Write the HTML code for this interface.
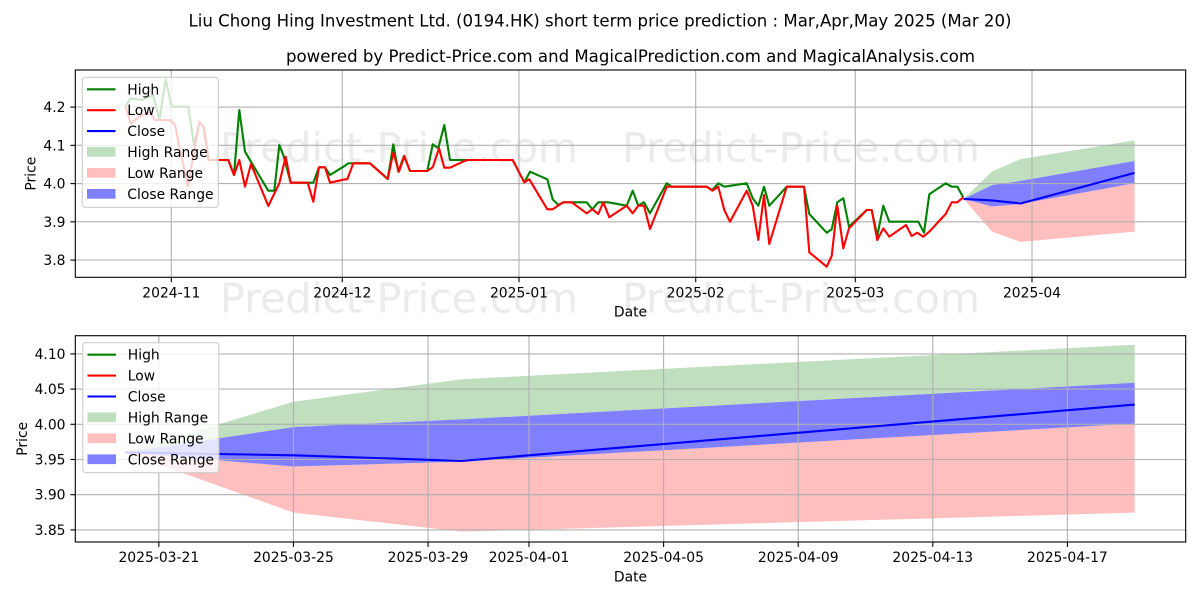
<!DOCTYPE html>
<html><head><meta charset="utf-8"><style>
html,body{margin:0;padding:0;background:#fff;}
svg{display:block;font-family:"DejaVu Sans","Liberation Sans",sans-serif;}
</style></head><body>
<svg width="1200" height="600" viewBox="0 0 1200 600" xmlns="http://www.w3.org/2000/svg">
<defs>
<clipPath id="c1"><rect x="75.3" y="70" width="1110.4" height="207.3"/></clipPath>
<clipPath id="c2"><rect x="75.3" y="335.7" width="1110.4" height="206.3"/></clipPath>
</defs>
<rect width="1200" height="600" fill="#fff"/>

<!-- titles -->
<text x="600" y="26.7" font-size="16.7" text-anchor="middle" textLength="823" lengthAdjust="spacingAndGlyphs">Liu Chong Hing Investment Ltd. (0194.HK) short term price prediction : Mar,Apr,May 2025 (Mar 20)</text>
<text x="630.5" y="62" font-size="16.7" text-anchor="middle" textLength="689" lengthAdjust="spacingAndGlyphs">powered by Predict-Price.com and MagicalPrediction.com and MagicalAnalysis.com</text>

<!-- watermarks -->
<g font-size="41" fill="#ebebeb">
<text x="220" y="162" textLength="358" lengthAdjust="spacingAndGlyphs">Predict-Price.com</text>
<text x="622" y="162" textLength="358" lengthAdjust="spacingAndGlyphs">Predict-Price.com</text>
<text x="220" y="312.7" textLength="358" lengthAdjust="spacingAndGlyphs">Predict-Price.com</text>
<text x="622" y="312.7" textLength="358" lengthAdjust="spacingAndGlyphs">Predict-Price.com</text>
<text x="222" y="461" textLength="358" lengthAdjust="spacingAndGlyphs">Predict-Price.com</text>
<text x="623" y="461" textLength="358" lengthAdjust="spacingAndGlyphs">Predict-Price.com</text>
</g>

<!-- ===== TOP CHART ===== -->
<g clip-path="url(#c1)">
<polygon fill="#bfdfbf" points="963.6,198.9 992.1,171.36 1020.6,159.12 1134.6,140.38 1134.6,161.03 1020.6,180.92 992.1,185.13"/>
<polygon fill="#ffbfbf" points="963.6,198.9 992.1,206.55 1020.6,203.87 1134.6,183.22 1134.6,231.6 1020.6,241.93 992.1,231.6"/>
<polygon fill="#7f7fff" points="963.6,198.9 992.1,185.13 1020.6,180.92 1134.6,161.03 1134.6,183.22 1020.6,203.87 992.1,206.55"/>
<g stroke="#b0b0b0" stroke-width="1.1">
<line x1="171.3" y1="70" x2="171.3" y2="277.3"/>
<line x1="342.3" y1="70" x2="342.3" y2="277.3"/>
<line x1="519" y1="70" x2="519" y2="277.3"/>
<line x1="695.7" y1="70" x2="695.7" y2="277.3"/>
<line x1="855.3" y1="70" x2="855.3" y2="277.3"/>
<line x1="1032" y1="70" x2="1032" y2="277.3"/>
<line x1="75.3" y1="107.1" x2="1185.7" y2="107.1"/>
<line x1="75.3" y1="145.35" x2="1185.7" y2="145.35"/>
<line x1="75.3" y1="183.6" x2="1185.7" y2="183.6"/>
<line x1="75.3" y1="221.85" x2="1185.7" y2="221.85"/>
<line x1="75.3" y1="260.1" x2="1185.7" y2="260.1"/>
</g>
<polyline fill="none" stroke="#008000" stroke-width="2.1" stroke-linejoin="round" points="125.3,106.7 130.7,98.3 142,100 153.3,95 159.3,120 165.7,79.3 171.7,106.7 188.3,106.7 194,145 199.5,123 204,127 209,160 228.3,160 234,175 239.3,110 245,151.7 268.3,190.7 274.3,190.7 279.3,145 283.3,155 290.7,182.7 313.3,182.7 319,167.3 325,167.3 330,175 345,165.7 348.3,163.3 370,163.3 387.7,179 393.3,144.3 398.3,171.7 404,156 410,171 427.3,171 432.7,144.3 438.3,148.3 444.3,125 450,160 512.7,160 524.3,182.3 530,171.7 547.3,179.3 552.7,199.3 558.3,205 563.3,202.3 586.7,202.3 592.3,209.3 598.3,202.3 608.3,202.3 626.7,205.7 632.7,190.7 638.3,205.7 644,202.3 650,213.3 666.7,183.3 671.7,186.7 706.7,186.7 712.3,190 718.3,183.3 724.3,186.7 746.7,183.3 752.7,198.3 758.3,205.7 764,186.7 769.3,205.7 786.7,186.7 804,186.7 809.3,214 826.7,232.7 831.7,229.3 837.3,202.3 843.3,198.3 849,226.7 866.7,210 871.7,210 877.3,236 883.3,205.7 889.3,221.7 918.3,221.7 924,232.7 929.3,194.3 945.7,183.3 951.7,186.7 957.3,186.7 963.3,197.3"/>
<polyline fill="none" stroke="#ff0000" stroke-width="2.1" stroke-linejoin="round" points="125.3,105.7 130.7,123.3 142,115 150,113 155,120 170,120 175,125 180,150 188,186 199.3,121.7 203.5,127 208.5,160 228.3,160 234,175 239.3,160 245,186.7 251,164 268.3,206 279.3,183.3 285.7,156.7 290.7,182.7 307.7,182.7 313.3,201.7 319,167.3 325,167.3 330,182.7 345,179.3 347.3,179.3 353.3,163.3 370,163.3 387.7,179 393.3,152.7 399,171.7 404.3,156 410,171 427.3,171 432.7,167.3 439,148.3 444.3,167.7 450,167.7 466.7,160 512.7,160 524.3,182.3 529.3,179.3 547.3,209.3 552.7,209.3 563.3,202.3 571.7,202.3 586.7,213.3 592.3,209.3 598.3,214 603.3,202.3 609.3,217.3 626.7,205.7 632.7,213.3 638.3,205.7 644,205.7 650,229 666.7,186.7 706.7,186.7 712.3,190.7 718.3,186.7 724.3,210 730,221.7 746.7,190.7 752.7,205.7 758.3,240 764,195 769.3,244 786.7,186.7 804,186.7 809.3,252.3 826.7,266.7 831.7,256 837.3,205.7 843.3,248.3 849,228.3 866.7,210 871.7,210 877.3,240 883.3,228.3 889.3,236.7 906,225 911.7,236 917.3,232.7 923.3,236.7 929.3,231.7 945.7,214 951.7,202.3 957.3,202.3 963.3,197.3"/>
<polyline fill="none" stroke="#0000ff" stroke-width="2.1" stroke-linejoin="round" points="963.6,198.9 992.1,200.43 1020.6,203.49 1134.6,172.89"/>
</g>
<rect x="75.3" y="70" width="1110.4" height="207.3" fill="none" stroke="#000" stroke-width="1.1"/>
<g stroke="#000" stroke-width="1.1">
<line x1="171.3" y1="277.3" x2="171.3" y2="282.2"/>
<line x1="342.3" y1="277.3" x2="342.3" y2="282.2"/>
<line x1="519" y1="277.3" x2="519" y2="282.2"/>
<line x1="695.7" y1="277.3" x2="695.7" y2="282.2"/>
<line x1="855.3" y1="277.3" x2="855.3" y2="282.2"/>
<line x1="1032" y1="277.3" x2="1032" y2="282.2"/>
<line x1="70.4" y1="107.1" x2="75.3" y2="107.1"/>
<line x1="70.4" y1="145.35" x2="75.3" y2="145.35"/>
<line x1="70.4" y1="183.6" x2="75.3" y2="183.6"/>
<line x1="70.4" y1="221.85" x2="75.3" y2="221.85"/>
<line x1="70.4" y1="260.1" x2="75.3" y2="260.1"/>
</g>
<g font-size="13.9" fill="#000">
<g text-anchor="middle">
<text x="171.3" y="297.5">2024-11</text>
<text x="342.3" y="297.5">2024-12</text>
<text x="519" y="297.5">2025-01</text>
<text x="695.7" y="297.5">2025-02</text>
<text x="855.3" y="297.5">2025-03</text>
<text x="1032" y="297.5">2025-04</text>
<text x="630.5" y="316.7">Date</text>
</g>
<g text-anchor="end">
<text x="65.5" y="112.1">4.2</text>
<text x="65.5" y="150.4">4.1</text>
<text x="65.5" y="188.6">4.0</text>
<text x="65.5" y="226.9">3.9</text>
<text x="65.5" y="265.1">3.8</text>
</g>
<text transform="translate(35.5,173.7) rotate(-90)" text-anchor="middle">Price</text>
</g>
<!-- legend top -->
<g>
<rect x="82.3" y="77.3" width="136" height="130" rx="3" ry="3" fill="#fff" fill-opacity="0.8" stroke="#cccccc" stroke-width="1.1"/>
<line x1="87" y1="89.3" x2="115.5" y2="89.3" stroke="#008000" stroke-width="2.1"/>
<line x1="87" y1="110.2" x2="115.5" y2="110.2" stroke="#ff0000" stroke-width="2.1"/>
<line x1="87" y1="131.1" x2="115.5" y2="131.1" stroke="#0000ff" stroke-width="2.1"/>
<rect x="87" y="147" width="28.5" height="9.7" fill="#bfdfbf"/>
<rect x="87" y="168" width="28.5" height="9.7" fill="#ffbfbf"/>
<rect x="87" y="189" width="28.5" height="9.7" fill="#7f7fff"/>
<g font-size="13.9" fill="#000">
<text x="127.3" y="94.3">High</text>
<text x="127.3" y="115.2">Low</text>
<text x="127.3" y="136.1">Close</text>
<text x="127.3" y="157">High Range</text>
<text x="127.3" y="178">Low Range</text>
<text x="127.3" y="199">Close Range</text>
</g>
</g>

<!-- ===== BOTTOM CHART ===== -->
<g clip-path="url(#c2)">
<polygon fill="#bfdfbf" points="125.2,452.46 293.45,401.77 461.7,379.24 1134.7,344.75 1134.7,382.76 461.7,419.37 293.45,427.12"/>
<polygon fill="#ffbfbf" points="125.2,452.46 293.45,466.54 461.7,461.61 1134.7,423.6 1134.7,512.65 461.7,531.66 293.45,512.65"/>
<polygon fill="#7f7fff" points="125.2,452.46 293.45,427.12 461.7,419.37 1134.7,382.76 1134.7,423.6 461.7,461.61 293.45,466.54"/>
<g stroke="#b0b0b0" stroke-width="1.1">
<line x1="158.85" y1="335.7" x2="158.85" y2="542"/>
<line x1="293.45" y1="335.7" x2="293.45" y2="542"/>
<line x1="428.05" y1="335.7" x2="428.05" y2="542"/>
<line x1="529" y1="335.7" x2="529" y2="542"/>
<line x1="663.6" y1="335.7" x2="663.6" y2="542"/>
<line x1="798.2" y1="335.7" x2="798.2" y2="542"/>
<line x1="932.8" y1="335.7" x2="932.8" y2="542"/>
<line x1="1067.4" y1="335.7" x2="1067.4" y2="542"/>
<line x1="75.3" y1="353.9" x2="1185.7" y2="353.9"/>
<line x1="75.3" y1="389.1" x2="1185.7" y2="389.1"/>
<line x1="75.3" y1="424.3" x2="1185.7" y2="424.3"/>
<line x1="75.3" y1="459.5" x2="1185.7" y2="459.5"/>
<line x1="75.3" y1="494.7" x2="1185.7" y2="494.7"/>
<line x1="75.3" y1="529.9" x2="1185.7" y2="529.9"/>
</g>
<polyline fill="none" stroke="#0000ff" stroke-width="2.1" stroke-linejoin="round" points="125.2,452.46 293.45,455.28 461.7,460.91 1134.7,404.59"/>
</g>
<rect x="75.3" y="335.7" width="1110.4" height="206.3" fill="none" stroke="#000" stroke-width="1.1"/>
<g stroke="#000" stroke-width="1.1">
<line x1="158.85" y1="542" x2="158.85" y2="546.9"/>
<line x1="293.45" y1="542" x2="293.45" y2="546.9"/>
<line x1="428.05" y1="542" x2="428.05" y2="546.9"/>
<line x1="529" y1="542" x2="529" y2="546.9"/>
<line x1="663.6" y1="542" x2="663.6" y2="546.9"/>
<line x1="798.2" y1="542" x2="798.2" y2="546.9"/>
<line x1="932.8" y1="542" x2="932.8" y2="546.9"/>
<line x1="1067.4" y1="542" x2="1067.4" y2="546.9"/>
<line x1="70.4" y1="353.9" x2="75.3" y2="353.9"/>
<line x1="70.4" y1="389.1" x2="75.3" y2="389.1"/>
<line x1="70.4" y1="424.3" x2="75.3" y2="424.3"/>
<line x1="70.4" y1="459.5" x2="75.3" y2="459.5"/>
<line x1="70.4" y1="494.7" x2="75.3" y2="494.7"/>
<line x1="70.4" y1="529.9" x2="75.3" y2="529.9"/>
</g>
<g font-size="13.9" fill="#000">
<g text-anchor="middle">
<text x="158.85" y="562">2025-03-21</text>
<text x="293.45" y="562">2025-03-25</text>
<text x="428.05" y="562">2025-03-29</text>
<text x="529" y="562">2025-04-01</text>
<text x="663.6" y="562">2025-04-05</text>
<text x="798.2" y="562">2025-04-09</text>
<text x="932.8" y="562">2025-04-13</text>
<text x="1067.4" y="562">2025-04-17</text>
<text x="630.5" y="581.5">Date</text>
</g>
<g text-anchor="end">
<text x="65.5" y="358.9">4.10</text>
<text x="65.5" y="394.1">4.05</text>
<text x="65.5" y="429.3">4.00</text>
<text x="65.5" y="464.5">3.95</text>
<text x="65.5" y="499.7">3.90</text>
<text x="65.5" y="534.9">3.85</text>
</g>
<text transform="translate(27,438.8) rotate(-90)" text-anchor="middle">Price</text>
</g>
<!-- legend bottom -->
<g transform="translate(0.5,265.4)">
<rect x="82.3" y="77.3" width="136" height="130" rx="3" ry="3" fill="#fff" fill-opacity="0.8" stroke="#cccccc" stroke-width="1.1"/>
<line x1="87" y1="89.3" x2="115.5" y2="89.3" stroke="#008000" stroke-width="2.1"/>
<line x1="87" y1="110.2" x2="115.5" y2="110.2" stroke="#ff0000" stroke-width="2.1"/>
<line x1="87" y1="131.1" x2="115.5" y2="131.1" stroke="#0000ff" stroke-width="2.1"/>
<rect x="87" y="147" width="28.5" height="9.7" fill="#bfdfbf"/>
<rect x="87" y="168" width="28.5" height="9.7" fill="#ffbfbf"/>
<rect x="87" y="189" width="28.5" height="9.7" fill="#7f7fff"/>
<g font-size="13.9" fill="#000">
<text x="127.3" y="94.3">High</text>
<text x="127.3" y="115.2">Low</text>
<text x="127.3" y="136.1">Close</text>
<text x="127.3" y="157">High Range</text>
<text x="127.3" y="178">Low Range</text>
<text x="127.3" y="199">Close Range</text>
</g>
</g>
</svg>
</body></html>
